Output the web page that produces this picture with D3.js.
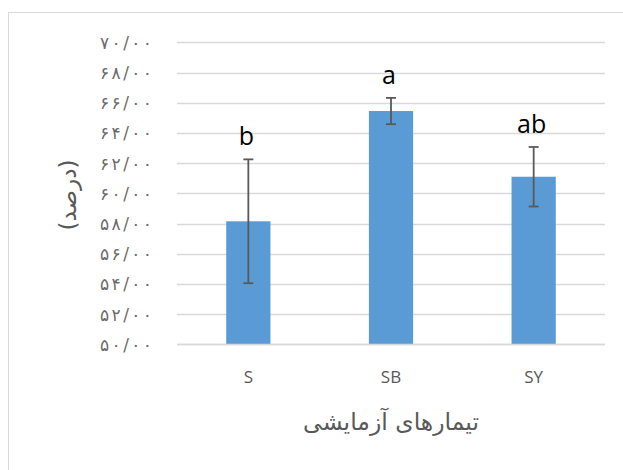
<!DOCTYPE html>
<html>
<head>
<meta charset="utf-8">
<script src="https://cdn.jsdelivr.net/npm/d3@7"></script>
<style>
  html, body { margin: 0; padding: 0; background: #fff; }
  svg { display: block; }
</style>
</head>
<body>
<svg id="chart" width="623" height="470"></svg>
<script>
// Treatments, mean percentages, error half-widths and significance letters
const categories = ["S", "SB", "SY"];
const values = [58.15, 65.45, 61.1];
const errors = [4.1, 0.87, 1.97];
const letters = ["b", "a", "ab"];
const yTicks = [50, 52, 54, 56, 58, 60, 62, 64, 66, 68, 70];
const xTitle = "تیمارهای آزمایشی";
const yTitle = "(درصد)";

const svg = d3.select("#chart");
const W = 623, H = 470;
const plotLeft = 177, plotRight = 605, plotTop = 42.3, plotBottom = 344.4;

// chart frame
svg.append("rect")
  .attr("x", 8.5).attr("y", 12.5)
  .attr("width", W + 20).attr("height", H + 20)
  .attr("fill", "#fff").attr("stroke", "#d9d9d9").attr("stroke-width", 1);

const x = d3.scaleBand().domain(categories).range([plotLeft, plotRight]).paddingInner(0.69).paddingOuter(0.345);
const y = d3.scaleLinear().domain([50, 70]).range([plotBottom, plotTop]);

const persianDigits = "۰۱۲۳۴۵۶۷۸۹";
const fmt = v => d3.format(".2f")(v).replace(/\d/g, c => persianDigits[+c]).replace(".", "/");

// gridlines
svg.append("g")
  .selectAll("line").data(yTicks).join("line")
  .attr("x1", plotLeft).attr("x2", plotRight)
  .attr("y1", d => Math.round(y(d)) + 0.5).attr("y2", d => Math.round(y(d)) + 0.5)
  .attr("stroke", "#d9d9d9").attr("stroke-width", 1.3);

// y axis tick labels, spread out to the wide spacing of the digits
const yAxis = d3.axisLeft(y).tickValues(yTicks).tickFormat(fmt).tickSize(0).tickPadding(0);
const gy = svg.append("g").attr("transform", `translate(152,0)`).call(yAxis);
gy.select(".domain").remove();
gy.selectAll("text")
  .attr("fill", "#6b6b6b")
  .attr("font-family", "'DejaVu Sans', sans-serif")
  .attr("font-size", 17)
  .attr("textLength", 52)
  .attr("lengthAdjust", "spacing")
  .attr("dy", "0.35em");

// bars
svg.append("g")
  .selectAll("rect").data(categories).join("rect")
  .attr("x", d => x(d))
  .attr("width", x.bandwidth())
  .attr("y", (d, i) => y(values[i]))
  .attr("height", (d, i) => y(50) - y(values[i]))
  .attr("fill", "#5b9bd5");

// baseline
svg.append("line")
  .attr("x1", plotLeft).attr("x2", plotRight)
  .attr("y1", Math.round(y(50)) + 0.5).attr("y2", Math.round(y(50)) + 0.5)
  .attr("stroke", "#d9d9d9").attr("stroke-width", 1.5);

// error bars
const eg = svg.append("g").attr("stroke", "#595959").attr("stroke-width", 1.8);
categories.forEach((c, i) => {
  const cx = x(c) + x.bandwidth() / 2;
  const y1 = y(values[i] + errors[i]);
  const y2 = y(values[i] - errors[i]);
  eg.append("line").attr("x1", cx).attr("x2", cx).attr("y1", y1).attr("y2", y2);
  eg.append("line").attr("x1", cx - 5).attr("x2", cx + 5).attr("y1", y1).attr("y2", y1);
  eg.append("line").attr("x1", cx - 5).attr("x2", cx + 5).attr("y1", y2).attr("y2", y2);
});

// significance letters
svg.append("g")
  .selectAll("text").data(categories).join("text")
  .attr("x", (d) => x(d) + x.bandwidth() / 2 - 2)
  .attr("y", (d, i) => y(values[i] + errors[i]) - 14)
  .attr("text-anchor", "middle")
  .attr("font-family", "'Open Sans', sans-serif")
  .attr("font-size", 25)
  .attr("fill", "#000")
  .text((d, i) => letters[i]);

// x axis labels
const xAxis = d3.axisBottom(x).tickSize(0).tickPadding(0);
const gx = svg.append("g").attr("transform", `translate(0,383)`).call(xAxis);
gx.select(".domain").remove();
gx.selectAll("text")
  .attr("dy", 0)
  .attr("fill", "#595959")
  .attr("font-family", "'Open Sans', sans-serif")
  .attr("font-size", 17);

// axis titles
svg.append("text")
  .attr("x", 391).attr("y", 430)
  .attr("text-anchor", "middle")
  .attr("direction", "rtl")
  .attr("font-family", "'DejaVu Sans', sans-serif")
  .attr("font-size", 23.5)
  .attr("fill", "#595959")
  .text(xTitle);

svg.append("text")
  .attr("transform", "translate(76,195) rotate(-90)")
  .attr("text-anchor", "middle")
  .attr("direction", "rtl")
  .attr("font-family", "'DejaVu Sans', sans-serif")
  .attr("font-size", 23)
  .attr("fill", "#595959")
  .text(yTitle);
</script>
</body>
</html>
